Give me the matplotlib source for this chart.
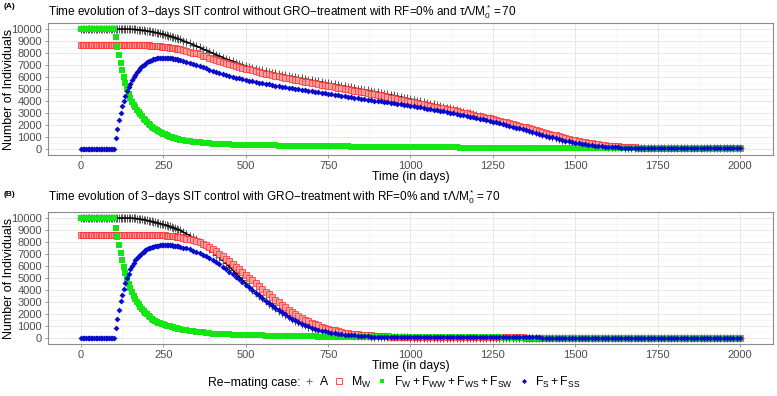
import numpy as np
import matplotlib.pyplot as plt
from matplotlib.lines import Line2D
from matplotlib.ticker import MultipleLocator

plt.rcParams['font.family'] = ['Liberation Sans', 'DejaVu Sans']
plt.rcParams['mathtext.fontset'] = 'custom'
plt.rcParams['mathtext.rm'] = 'Liberation Sans'
plt.rcParams['mathtext.it'] = 'Liberation Sans:italic'

# model output: every 5 days up to day 295, then every 10 days
days = np.concatenate([np.arange(0, 300, 5), np.arange(300, 2001, 10)])

# ---- panel A : without GRO-treatment ----
a_total_A = [
    10000, 10000, 10000, 10000, 10000, 10000, 10000, 10000, 10000, 10000,
    10000, 10000, 10000, 10000, 10000, 10000, 10000, 10000, 10000, 10000,
    10000, 10000, 10000, 10000, 10000, 10000, 10000, 10000, 10000, 9995,
    9990, 9980, 9970, 9960, 9950, 9935, 9920, 9905, 9885, 9865,
    9845, 9820, 9800, 9775, 9750, 9720, 9690, 9660, 9630, 9600,
    9570, 9530, 9490, 9450, 9410, 9370, 9330, 9280, 9230, 9180,
    9130, 9030, 8920, 8810, 8700, 8580, 8460, 8330, 8210, 8090,
    7970, 7850, 7730, 7620, 7510, 7400, 7300, 7200, 7100, 7010,
    6920, 6840, 6760, 6690, 6620, 6550, 6490, 6430, 6370, 6310,
    6260, 6200, 6150, 6090, 6040, 5990, 5940, 5880, 5830, 5780,
    5730, 5680, 5630, 5580, 5530, 5480, 5430, 5380, 5330, 5280,
    5230, 5180, 5130, 5080, 5030, 4980, 4930, 4880, 4830, 4780,
    4730, 4680, 4620, 4570, 4510, 4460, 4400, 4340, 4280, 4220,
    4160, 4100, 4040, 3980, 3910, 3850, 3790, 3720, 3650, 3580,
    3510, 3450, 3380, 3320, 3250, 3180, 3110, 3040, 2970, 2900,
    2830, 2760, 2690, 2620, 2560, 2490, 2410, 2330, 2250, 2170,
    2090, 2000, 1920, 1830, 1750, 1660, 1580, 1500, 1410, 1330,
    1250, 1170, 1090, 1010, 930, 860, 790, 720, 660, 600,
    540, 490, 440, 400, 360, 320, 290, 260, 230, 210,
    190, 170, 150, 140, 130, 120, 110, 100, 90, 85,
    80, 75, 70, 70, 65, 65, 60, 60, 60, 60,
    60, 60, 60, 60, 55, 55, 55, 55, 55, 55,
    55, 55, 55, 55, 55, 50, 50, 50, 50, 50,
    50]
a_M_W = [
    8660, 8660, 8660, 8660, 8660, 8660, 8660, 8660, 8660, 8660,
    8660, 8660, 8660, 8660, 8660, 8660, 8660, 8660, 8660, 8660,
    8660, 8660, 8660, 8660, 8660, 8660, 8660, 8660, 8660, 8660,
    8660, 8660, 8660, 8660, 8660, 8660, 8660, 8655, 8650, 8645,
    8640, 8632, 8624, 8615, 8605, 8595, 8583, 8570, 8556, 8540,
    8524, 8508, 8490, 8472, 8452, 8432, 8410, 8388, 8364, 8340,
    8315, 8250, 8180, 8110, 8040, 7960, 7880, 7790, 7710, 7620,
    7540, 7450, 7370, 7280, 7200, 7110, 7030, 6940, 6860, 6780,
    6700, 6630, 6560, 6490, 6420, 6350, 6290, 6230, 6170, 6110,
    6050, 5990, 5940, 5880, 5830, 5770, 5720, 5670, 5610, 5560,
    5510, 5460, 5410, 5360, 5310, 5260, 5210, 5160, 5110, 5060,
    5010, 4960, 4910, 4860, 4810, 4760, 4710, 4660, 4610, 4560,
    4510, 4460, 4400, 4350, 4290, 4240, 4180, 4120, 4060, 4000,
    3940, 3880, 3830, 3770, 3710, 3660, 3600, 3540, 3490, 3430,
    3380, 3320, 3260, 3210, 3150, 3090, 3030, 2970, 2910, 2850,
    2790, 2730, 2670, 2610, 2550, 2490, 2420, 2360, 2290, 2220,
    2150, 2080, 2010, 1940, 1870, 1800, 1720, 1650, 1580, 1500,
    1430, 1350, 1280, 1200, 1130, 1060, 990, 920, 850, 790,
    730, 670, 610, 560, 510, 460, 420, 380, 340, 310,
    280, 250, 230, 210, 190, 170, 155, 140, 130, 120,
    110, 105, 100, 95, 90, 85, 85, 80, 80, 80,
    80, 75, 75, 75, 75, 75, 70, 70, 70, 70,
    70, 70, 70, 65, 65, 65, 65, 65, 65, 65,
    65]
a_F_W = [
    10000, 10000, 10000, 10000, 10000, 10000, 10000, 10000, 10000, 10000,
    10000, 10000, 10000, 10000, 10000, 10000, 10000, 10000, 10000, 10000,
    10000, 9300, 8540, 7840, 7200, 6580, 5960, 5460, 4960, 4580,
    4220, 3950, 3700, 3470, 3260, 3070, 2880, 2710, 2540, 2390,
    2240, 2110, 1980, 1870, 1770, 1670, 1580, 1500, 1420, 1340,
    1270, 1210, 1150, 1090, 1040, 990, 940, 900, 860, 820,
    780, 735, 690, 650, 610, 575, 545, 520, 495, 470,
    450, 435, 420, 405, 395, 385, 375, 365, 355, 348,
    340, 335, 330, 325, 320, 315, 310, 305, 300, 295,
    290, 285, 280, 276, 272, 268, 264, 260, 256, 252,
    248, 244, 240, 236, 232, 228, 225, 222, 219, 216,
    213, 210, 207, 204, 201, 198, 195, 192, 189, 186,
    183, 180, 178, 176, 174, 172, 170, 168, 166, 164,
    162, 160, 158, 155, 152, 150, 147, 144, 141, 138,
    135, 132, 130, 128, 126, 124, 122, 120, 118, 116,
    114, 112, 110, 108, 106, 104, 102, 100, 98, 96,
    94, 92, 90, 89, 88, 87, 86, 85, 84, 83,
    82, 81, 80, 79, 78, 77, 76, 75, 74, 73,
    72, 71, 70, 69, 68, 67, 66, 65, 64, 63,
    62, 61, 60, 59, 58, 57, 56, 55, 54, 53,
    52, 51, 50, 50, 49, 49, 48, 48, 47, 47,
    46, 46, 45, 45, 44, 44, 43, 43, 42, 42,
    41, 41, 40, 40, 40, 39, 39, 39, 38, 38,
    38]
a_F_S = [
    0, 0, 0, 0, 0, 0, 0, 0, 0, 0,
    0, 0, 0, 0, 0, 0, 0, 0, 0, 0,
    0, 900, 1700, 2400, 3000, 3550, 4000, 4420, 4800, 5150,
    5450, 5730, 5980, 6200, 6400, 6580, 6740, 6880, 7010, 7120,
    7220, 7300, 7370, 7430, 7480, 7520, 7550, 7570, 7585, 7595,
    7600, 7600, 7595, 7585, 7570, 7555, 7535, 7510, 7485, 7455,
    7420, 7350, 7280, 7200, 7110, 7020, 6920, 6820, 6720, 6620,
    6520, 6430, 6340, 6250, 6170, 6090, 6020, 5950, 5880, 5820,
    5760, 5700, 5640, 5590, 5530, 5480, 5430, 5380, 5330, 5280,
    5240, 5190, 5150, 5100, 5060, 5020, 4970, 4930, 4890, 4850,
    4800, 4760, 4720, 4680, 4640, 4600, 4560, 4520, 4480, 4440,
    4400, 4360, 4320, 4280, 4240, 4200, 4160, 4120, 4080, 4040,
    4000, 3960, 3920, 3880, 3840, 3800, 3760, 3720, 3680, 3640,
    3600, 3550, 3510, 3460, 3420, 3370, 3330, 3280, 3230, 3180,
    3130, 3080, 3030, 2980, 2930, 2870, 2820, 2760, 2700, 2640,
    2580, 2520, 2460, 2400, 2340, 2280, 2210, 2150, 2080, 2010,
    1940, 1870, 1790, 1720, 1640, 1570, 1490, 1420, 1340, 1270,
    1190, 1120, 1040, 970, 900, 830, 760, 700, 640, 580,
    530, 480, 430, 390, 350, 310, 280, 250, 220, 200,
    180, 160, 145, 130, 120, 110, 100, 95, 90, 85,
    80, 78, 76, 74, 72, 70, 70, 68, 68, 66,
    66, 65, 65, 64, 64, 63, 63, 62, 62, 62,
    61, 61, 60, 60, 60, 60, 59, 59, 59, 58,
    58]

# ---- panel B : with GRO-treatment ----
b_total_A = [
    10000, 10000, 10000, 10000, 10000, 10000, 10000, 10000, 10000, 10000,
    10000, 10000, 10000, 10000, 10000, 10000, 10000, 10000, 10000, 10000,
    10000, 10000, 10000, 10000, 10000, 10000, 10000, 10000, 10000, 10000,
    10000, 9990, 9980, 9970, 9955, 9940, 9920, 9895, 9870, 9835,
    9800, 9770, 9740, 9710, 9675, 9640, 9605, 9570, 9535, 9500,
    9465, 9425, 9385, 9340, 9295, 9245, 9195, 9140, 9085, 9030,
    8980, 8840, 8690, 8540, 8380, 8210, 8030, 7840, 7640, 7420,
    7190, 6950, 6710, 6460, 6210, 5950, 5680, 5400, 5120, 4830,
    4550, 4280, 4020, 3770, 3530, 3300, 3080, 2870, 2660, 2460,
    2270, 2090, 1920, 1760, 1600, 1450, 1310, 1180, 1060, 950,
    850, 760, 680, 610, 550, 490, 440, 390, 350, 310,
    280, 250, 220, 200, 180, 160, 145, 130, 115, 100,
    90, 85, 80, 70, 65, 60, 55, 50, 45, 45,
    40, 40, 40, 38, 38, 36, 36, 35, 35, 35,
    35, 35, 35, 35, 35, 35, 35, 35, 35, 35,
    35, 35, 35, 35, 35, 35, 35, 35, 35, 35,
    35, 35, 35, 35, 35, 35, 35, 35, 35, 35,
    35, 35, 35, 35, 35, 35, 35, 35, 35, 35,
    30, 30, 30, 30, 30, 30, 30, 30, 30, 30,
    30, 30, 30, 30, 30, 30, 30, 30, 30, 30,
    30, 30, 30, 30, 30, 30, 30, 30, 30, 30,
    30, 30, 30, 30, 30, 30, 30, 30, 30, 30,
    30, 30, 30, 30, 30, 30, 30, 30, 30, 30,
    30]
b_M_W = [
    8620, 8620, 8620, 8620, 8620, 8620, 8620, 8620, 8620, 8620,
    8620, 8620, 8620, 8620, 8620, 8620, 8620, 8620, 8620, 8620,
    8620, 8620, 8620, 8620, 8620, 8620, 8620, 8620, 8620, 8620,
    8620, 8620, 8620, 8620, 8620, 8620, 8620, 8620, 8620, 8620,
    8620, 8618, 8615, 8612, 8608, 8603, 8597, 8590, 8582, 8573,
    8563, 8552, 8540, 8527, 8512, 8496, 8479, 8460, 8440, 8420,
    8400, 8350, 8290, 8230, 8160, 8080, 7970, 7850, 7720, 7570,
    7400, 7220, 7030, 6830, 6610, 6380, 6160, 5940, 5720, 5500,
    5270, 5040, 4800, 4570, 4330, 4100, 3870, 3650, 3420, 3200,
    2990, 2780, 2570, 2370, 2170, 1980, 1820, 1670, 1520, 1390,
    1260, 1150, 1050, 950, 860, 770, 700, 630, 560, 500,
    450, 410, 370, 340, 310, 280, 260, 230, 210, 190,
    170, 160, 145, 135, 125, 115, 105, 100, 90, 85,
    80, 76, 72, 68, 65, 62, 60, 57, 55, 52,
    50, 49, 48, 47, 46, 45, 45, 44, 44, 43,
    42, 42, 42, 42, 42, 42, 42, 42, 42, 42,
    42, 42, 42, 42, 42, 41, 41, 41, 41, 41,
    41, 41, 41, 41, 41, 41, 41, 41, 41, 41,
    41, 41, 41, 41, 41, 40, 40, 40, 40, 40,
    40, 40, 40, 40, 40, 40, 40, 40, 40, 40,
    40, 40, 40, 40, 40, 40, 40, 40, 40, 40,
    40, 40, 40, 40, 40, 40, 40, 40, 40, 40,
    40, 40, 40, 40, 40, 40, 40, 40, 40, 40,
    40]
b_F_W = [
    10000, 10000, 10000, 10000, 10000, 10000, 10000, 10000, 10000, 10000,
    10000, 10000, 10000, 10000, 10000, 10000, 10000, 10000, 10000, 10000,
    10000, 9200, 8450, 7750, 7100, 6500, 5900, 5400, 4900, 4500,
    4150, 3830, 3540, 3280, 3040, 2820, 2620, 2430, 2260, 2100,
    1960, 1830, 1710, 1600, 1500, 1410, 1340, 1280, 1225, 1175,
    1130, 1085, 1040, 1000, 960, 920, 880, 840, 800, 760,
    720, 680, 640, 600, 560, 525, 490, 460, 430, 400,
    375, 355, 340, 325, 310, 298, 287, 277, 268, 259,
    250, 242, 234, 226, 218, 210, 202, 194, 186, 178,
    170, 166, 162, 158, 154, 150, 146, 142, 138, 134,
    130, 127, 124, 121, 118, 115, 112, 109, 106, 103,
    100, 98, 96, 94, 92, 90, 88, 86, 84, 82,
    80, 78, 76, 74, 72, 70, 68, 66, 64, 62,
    60, 59, 58, 57, 56, 55, 54, 53, 52, 51,
    50, 50, 49, 49, 48, 48, 47, 47, 46, 46,
    45, 45, 44, 44, 43, 43, 42, 42, 41, 41,
    40, 40, 39, 39, 38, 38, 37, 37, 36, 36,
    35, 35, 35, 34, 34, 34, 33, 33, 33, 32,
    32, 32, 32, 31, 31, 31, 31, 31, 30, 30,
    30, 30, 30, 30, 30, 30, 30, 30, 30, 30,
    30, 30, 30, 30, 30, 30, 30, 30, 30, 30,
    30, 30, 30, 30, 30, 30, 30, 30, 30, 30,
    30, 30, 30, 30, 30, 30, 30, 30, 30, 30,
    30]
b_F_S = [
    0, 0, 0, 0, 0, 0, 0, 0, 0, 0,
    0, 0, 0, 0, 0, 0, 0, 0, 0, 0,
    0, 850, 1600, 2370, 3060, 3610, 4100, 4570, 4990, 5370,
    5730, 6000, 6250, 6460, 6640, 6800, 6950, 7080, 7200, 7300,
    7390, 7460, 7520, 7570, 7610, 7650, 7680, 7700, 7720, 7735,
    7745, 7750, 7750, 7745, 7735, 7720, 7705, 7685, 7660, 7630,
    7600, 7530, 7460, 7380, 7290, 7190, 7070, 6950, 6810, 6660,
    6500, 6320, 6130, 5940, 5740, 5540, 5320, 5100, 4880, 4660,
    4440, 4220, 4000, 3780, 3550, 3330, 3120, 2910, 2710, 2510,
    2320, 2140, 1960, 1790, 1620, 1470, 1330, 1200, 1080, 960,
    860, 770, 690, 620, 560, 500, 450, 400, 360, 320,
    290, 260, 230, 210, 190, 170, 155, 140, 125, 115,
    105, 95, 90, 80, 75, 70, 65, 60, 58, 55,
    52, 50, 50, 49, 48, 47, 46, 45, 45, 44,
    44, 44, 44, 44, 44, 43, 43, 43, 43, 43,
    43, 43, 43, 43, 43, 42, 42, 42, 42, 42,
    42, 42, 42, 42, 42, 42, 42, 42, 42, 42,
    41, 41, 41, 41, 41, 41, 41, 41, 41, 41,
    41, 41, 41, 41, 41, 41, 41, 41, 41, 41,
    40, 40, 40, 40, 40, 40, 40, 40, 40, 40,
    40, 40, 40, 40, 40, 40, 40, 40, 40, 40,
    40, 40, 40, 40, 40, 40, 40, 40, 40, 40,
    40, 40, 40, 40, 40, 40, 40, 40, 40, 40,
    40]

titles = [
    'Time evolution of 3\u2212days SIT control without GRO\u2212treatment with RF=0% and '
    r'$\mathrm{\tau\Lambda/M_0^*=70}$',
    'Time evolution of 3\u2212days SIT control with GRO\u2212treatment with RF=0% and '
    r'$\mathrm{\tau\Lambda/M_0^*=70}$',
]
tags = ['(A)', '(B)']
legend_labels = ['A', r'$\mathrm{M_W}$',
                 r'$\mathrm{F_W+F_{WW}+F_{WS}+F_{SW}}$', r'$\mathrm{F_S+F_{SS}}$']

panels = [(a_total_A, a_M_W, a_F_W, a_F_S), (b_total_A, b_M_W, b_F_W, b_F_S)]

W, H = 777, 396
fig = plt.figure(figsize=(W / 100, H / 100), dpi=100)

# axes boxes in pixels: left, top, right, bottom ; title y ; tag y
boxes = [(48, 23, 773, 155, 12, 6), (48, 212, 773, 344, 197, 195)]

grey_txt = '#4d4d4d'
for i, (box, series) in enumerate(zip(boxes, panels)):
    l, t, r, b, ty, gy = box
    ax = fig.add_axes([l / W, 1 - b / H, (r - l) / W, (b - t) / H])
    tot, mw, fw, fs = series

    ax.plot(days, tot, ls='none', marker='+', ms=6, mew=0.7,
            color='#555555', zorder=3)
    ax.plot(days, tot, color='black', lw=1.1, zorder=3)
    ax.plot(days, mw, ls='none', marker='s', ms=4.4, mew=0.5,
            mfc='#ff9c9c', mec='#ff2a2a', zorder=4)
    ax.plot(days, fw, ls='none', marker='s', ms=3.8, mew=0,
            color='#14e614', zorder=5)
    ax.plot(days, fs, ls='none', marker='D', ms=3.0, mew=0,
            color='#0a0acd', zorder=6)

    ax.set_xlim(-100, 2100)
    ax.set_ylim(-500, 10500)
    ax.xaxis.set_major_locator(MultipleLocator(250))
    ax.xaxis.set_minor_locator(MultipleLocator(125))
    ax.yaxis.set_major_locator(MultipleLocator(1000))
    ax.yaxis.set_minor_locator(MultipleLocator(500))
    ax.grid(which='major', color='#e3e3e3', lw=0.6, zorder=0)
    ax.grid(which='minor', color='#f2f2f2', lw=0.4, zorder=0)
    ax.set_axisbelow(True)
    for s in ax.spines.values():
        s.set_color('#8c8c8c')
        s.set_linewidth(0.8)
    ax.tick_params(which='major', length=2.5, color='#8c8c8c', width=0.6,
                   labelsize=8, labelcolor=grey_txt, pad=2)
    ax.tick_params(which='minor', length=0)
    ax.set_xlabel('Time (in days)', fontsize=8.8, labelpad=0)
    ax.set_ylabel('Number of Individuals', fontsize=9, va='center')
    ax.yaxis.set_label_coords(-39 / (r - l), 0.5)

    fig.text(l / W, 1 - ty / H, titles[i], fontsize=8.5,
             ha='left', va='center')
    fig.text(4 / W, 1 - gy / H, tags[i], fontsize=6,
             fontweight='bold', ha='left', va='center')

handles = [
    Line2D([], [], ls='none', marker='+', ms=5, mew=0.6, color='#5a5a5a'),
    Line2D([], [], ls='none', marker='s', ms=4, mew=0.6, mfc='none', mec='#ff3030'),
    Line2D([], [], ls='none', marker='s', ms=3.2, mew=0, color='#14e614'),
    Line2D([], [], ls='none', marker='D', ms=2.6, mew=0, color='#0a0acd'),
]
fig.text(208 / W, 1 - 383 / H, 'Re\u2212mating case:', fontsize=8.8,
         ha='left', va='center')
fig.legend(handles, legend_labels, loc='center left',
           bbox_to_anchor=(297 / W, 1 - 382 / H), ncol=4, frameon=False,
           fontsize=8.8, handlelength=0.9, handletextpad=0.5,
           columnspacing=0.45, borderpad=0)

fig.savefig('out.png', dpi=100)
